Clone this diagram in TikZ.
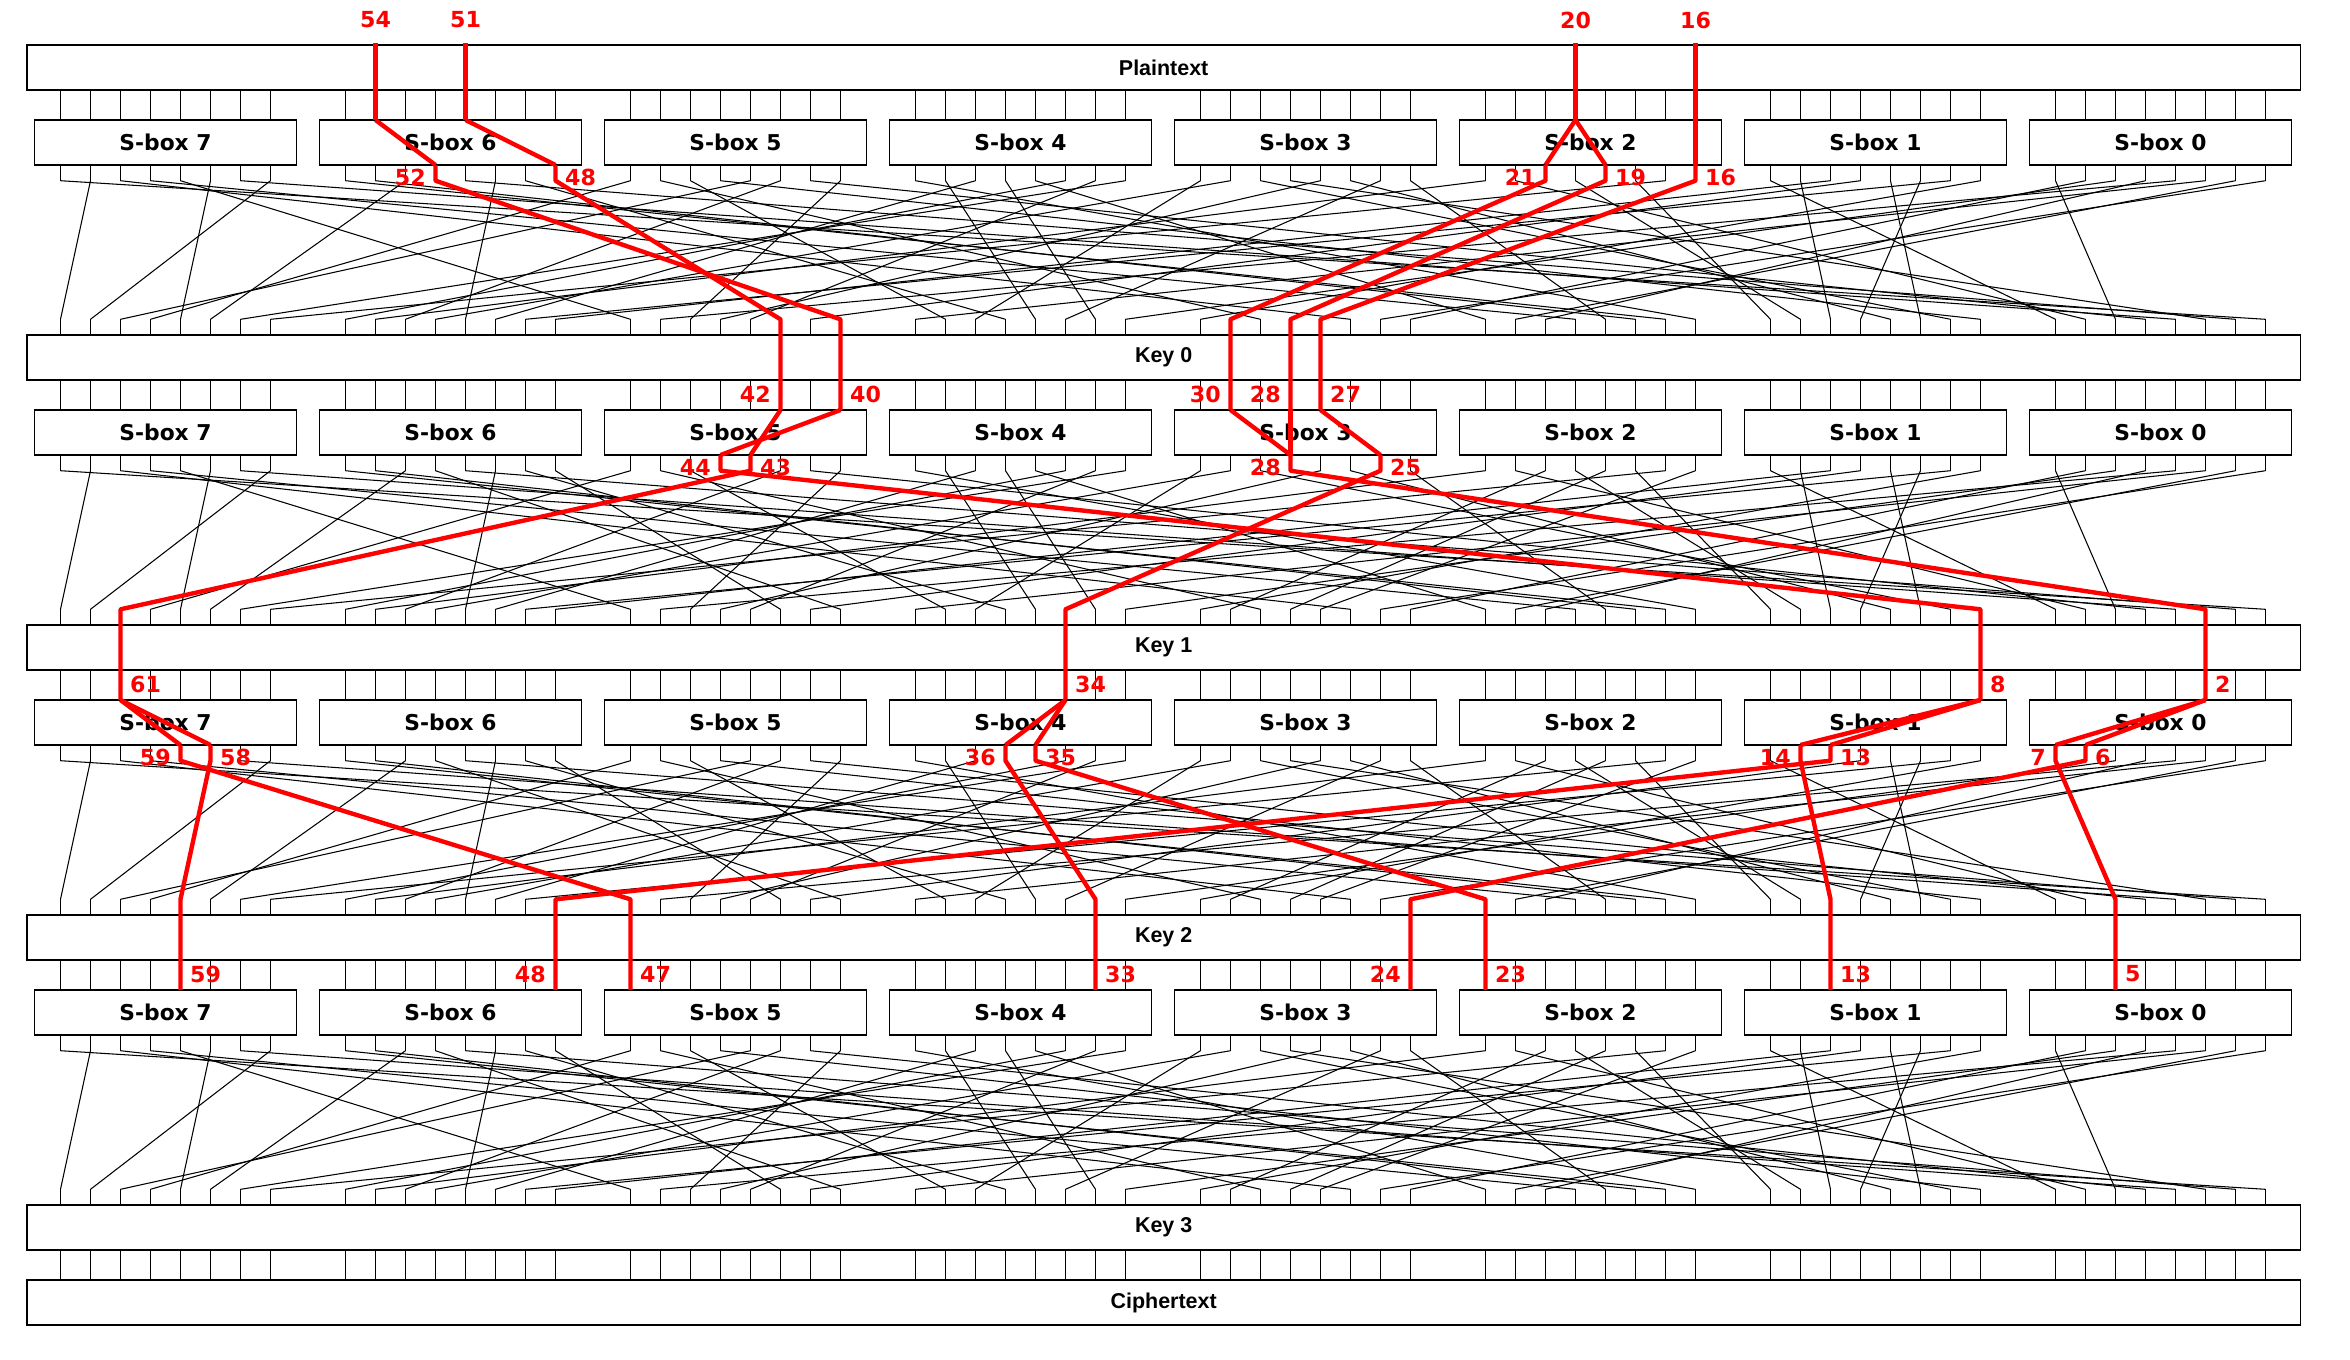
\documentclass[tikz,border=0pt]{standalone}
\usepackage{fontspec}
\setsansfont{DejaVu Sans}
\newfontfamily\layerfont{Liberation Sans}
\usetikzlibrary{calc}
\definecolor{TrailRed}{RGB}{255,0,0}
\tikzset{
  declare function={bitx(\b)=60.5+285*(7-floor(\b/8))+30*(7-mod(\b,8));},
  layerbox/.style={draw, line width=0.4pt, minimum width=22.72cm, minimum height=0.45cm,
    inner sep=0pt, outer sep=0pt, anchor=north west, font=\layerfont\bfseries\fontsize{6.1}{7}\selectfont},
  sboxbox/.style={layerbox, minimum width=2.62cm, font=\sffamily\bfseries\fontsize{6.2}{7}\selectfont},
  wire/.style={line width=0.4pt},
  permline/.style={line width=0.3pt},
  trail/.style={TrailRed, line width=1.25pt, line join=round},
  traillab/.style={text=TrailRed, inner sep=0pt, font=\sffamily\bfseries\fontsize{6.3}{7}\selectfont},
}
% output bit -> input bit of the next layer
\def\perm{62/63,56/62,58/59,53/58,50/51,59/47,48/42,52/40,40/45,38/35,36/33,35/23,18/15,14/13,
  13/48,11/10,10/12,44/8,43/61,28/2,25/34,21/30,19/28,16/27,7/5,6/24,63/0,61/26,60/20,57/3,
  55/17,54/18,51/1,49/36,47/60,46/29,45/38,42/53,41/4,39/16,37/50,34/55,33/43,32/57,31/37,
  30/52,29/9,27/44,26/11,24/19,23/54,22/6,20/14,17/56,15/7,12/41,9/49,8/31,5/32,4/21,
  3/46,2/39,1/22,0/25}

\begin{document}
\begin{tikzpicture}[x=0.01cm, y=-0.01cm]
  \useasboundingbox (0,0) rectangle (2350,1360);
  \node[layerbox] (plain) at (27,45) {Plaintext};
  \foreach \r in {0,...,3} {
    \node[layerbox] (key\r) at (27,{335+290*\r}) {Key \r};
    \foreach \k in {0,...,7}
      \node[sboxbox] (sb\r-\k) at ({34.4+285*(7-\k)},{120+290*\r}) {S-box \k};
  }
  \node[layerbox] (cipher) at (27,1280) {Ciphertext};

  \foreach \r in {0,...,3}
    \foreach \b in {0,...,63} {
      \coordinate (t\r-\b) at ({bitx(\b)},{120+290*\r});
      \coordinate (b\r-\b) at ({bitx(\b)},{165+290*\r});
      \coordinate (s\r-\b) at ({bitx(\b)},{180.7+290*\r});
      \coordinate (e\r-\b) at ({bitx(\b)},{319.3+290*\r});
    }

  \foreach \b in {0,...,63} {
    \draw[wire] (plain.south -| t0-\b) -- (t0-\b);
    \draw[wire] (key3.south -| t0-\b) -- (cipher.north -| t0-\b);
    \foreach \r in {0,...,3} {
      \draw[wire] (b\r-\b) -- (s\r-\b);
      \draw[wire] (e\r-\b) -- (key\r.north -| e\r-\b);
    }
    \foreach \r/\n in {0/1,1/2,2/3}
      \draw[wire] (key\r.south -| t\n-\b) -- (t\n-\b);
  }
  \foreach \i/\p in \perm
    \foreach \r in {0,...,3}
      \draw[permline] (s\r-\i) -- (e\r-\p);

  % trail
  \foreach \b in {54,51,20,16} {
    \coordinate (pin-\b) at ({bitx(\b)},43);
    \draw[trail] (pin-\b) -- (t0-\b);
    \node[traillab] at ({bitx(\b)},20) {\b};
  }
  \foreach \r/\a/\o in {0/54/52,0/51/48,0/20/21,0/20/19,0/16/16,1/42/43,1/40/44,1/30/28,1/28/28,
      1/27/25,2/61/59,2/61/58,2/34/36,2/34/35,2/8/14,2/8/13,2/2/7,2/2/6}
    \draw[trail] (t\r-\a) -- (b\r-\o);
  \foreach \r/\o/\d/\n in {0/52/40/1,0/48/42/1,0/21/30/1,0/19/28/1,0/16/27/1,1/44/8/2,1/43/61/2,
      1/28/2/2,1/25/34/2,2/59/47/3,2/58/59/3,2/36/33/3,2/35/23/3,2/14/13/3,2/13/48/3,2/7/5/3,2/6/24/3}
    \draw[trail] (b\r-\o) -- (s\r-\o) -- (e\r-\d) -- (t\n-\d);
  \foreach \r/\o/\side/\dx in {0/52/east/-9,0/48/west/9,0/21/east/-9,0/19/west/9,0/16/west/9,
      1/44/east/-9,1/43/west/9,1/28/east/-9,1/25/west/9,2/59/east/-9,2/58/west/9,2/36/east/-9,
      2/35/west/9,2/14/east/-9,2/13/west/9,2/7/east/-9,2/6/west/9}
    \node[traillab, anchor=\side] at ($(b\r-\o)+(\dx,12)$) {\o};
  \foreach \r/\d/\side/\dx in {0/42/east/-9,0/40/west/9,0/30/east/-9,0/28/east/-9,0/27/west/9,
      1/61/west/9,1/34/west/9,1/8/west/9,1/2/west/9,2/59/west/9,2/48/east/-9,2/47/west/9,
      2/33/west/9,2/24/east/-9,2/23/west/9,2/13/west/9,2/5/west/9}
    \node[traillab, anchor=\side] at ($(key\r.south -| e\r-\d)+(\dx,14)$) {\d};
\end{tikzpicture}
\end{document}
